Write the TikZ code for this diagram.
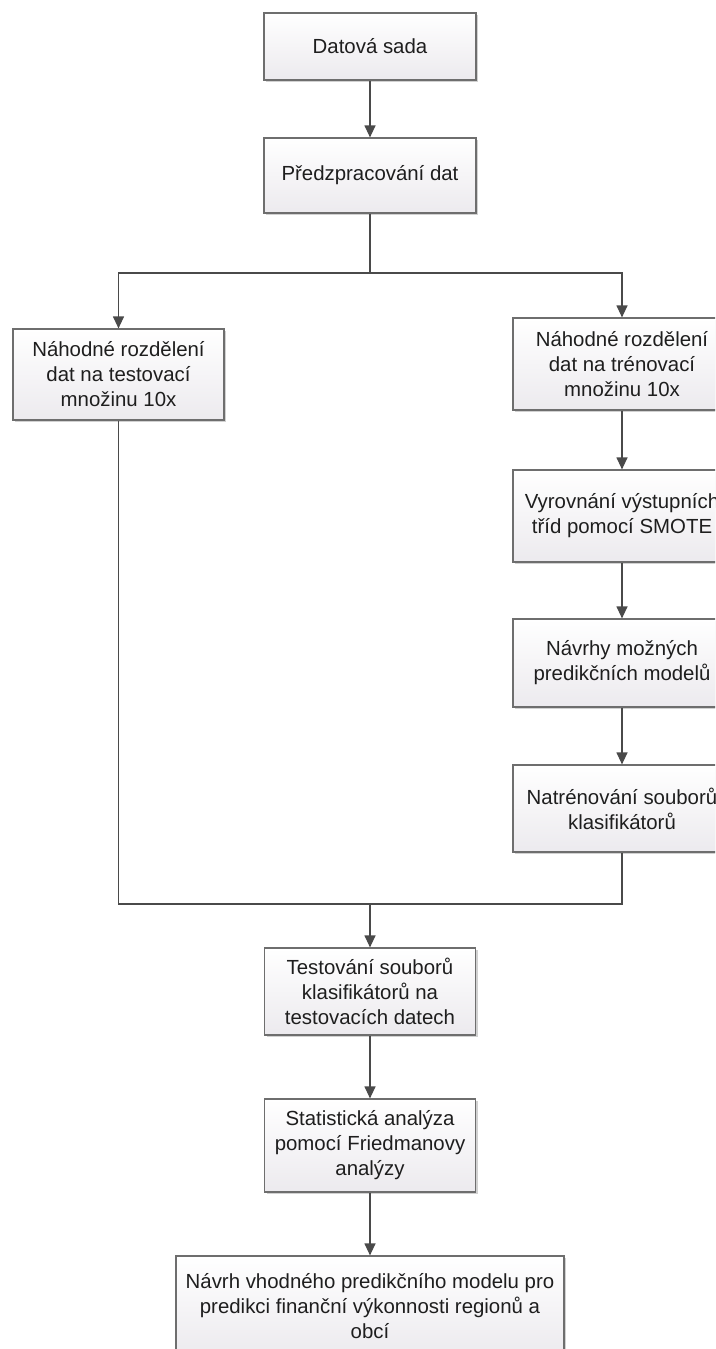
\documentclass[tikz,border=0pt]{standalone}
\usepackage{fontspec}
\setmainfont{Liberation Sans}
\usetikzlibrary{arrows.meta,shadows}
\definecolor{boxedge}{HTML}{6E6E6E}
\definecolor{boxfoot}{HTML}{ECEAEE}
\definecolor{linkcol}{HTML}{4A4A4A}
\definecolor{inkcol}{HTML}{1E1E1E}
\begin{document}
\begin{tikzpicture}[x=1pt,y=-1pt,
  stepbox/.style={draw=boxedge, line width=1.2pt, top color=white, bottom color=boxfoot,
    drop shadow={shadow xshift=2pt, shadow yshift=-2pt, fill=black, opacity=0.18},
    align=center, inner sep=0pt, text=inkcol, font=\fontsize{20.4}{25}\selectfont},
  link/.style={draw=linkcol, line width=1.2pt},
  flow/.style={link, -{Triangle[width=11pt,length=12pt]}}]

% page frame
\useasboundingbox (0,0) rectangle (715,1349);
\fill[white] (0,0) rectangle (715,1349);
\clip (0,0) rectangle (715,1349);

% main column
\node[stepbox, minimum width=212pt, minimum height=67pt] (data) at (370,46.5) {Datová sada};
\node[stepbox, minimum width=212pt, minimum height=75pt] (prep) at (370,175.5) {Předzpracování dat};

% test branch
\node[stepbox, minimum width=211pt, minimum height=91pt] (testsplit) at (118.5,374.5)
  {Náhodné rozdělení\\dat na testovací\\množinu 10x};

% training branch
\node[stepbox, minimum width=218pt, minimum height=92pt] (trainsplit) at (622,364)
  {Náhodné rozdělení\\dat na trénovací\\množinu 10x};
\node[stepbox, minimum width=218pt, minimum height=92pt] (smote) at (622,516)
  {Vyrovnání výstupních\\tříd pomocí SMOTE};
\node[stepbox, minimum width=218pt, minimum height=88pt] (models) at (622,663)
  {Návrhy možných\\predikčních modelů};
\node[stepbox, minimum width=218pt, minimum height=87pt] (train) at (622,808.5)
  {Natrénování souborů\\klasifikátorů};

% evaluation
\node[stepbox, minimum width=211pt, minimum height=87pt] (eval) at (370,991.5)
  {Testování souborů\\klasifikátorů na\\testovacích datech};
\node[stepbox, minimum width=211pt, minimum height=93pt] (stats) at (370,1145.5)
  {Statistická analýza\\pomocí Friedmanovy\\analýzy};
\node[stepbox, minimum width=388pt, minimum height=100pt] (final) at (370,1306)
  {Návrh vhodného predikčního modelu pro\\predikci finanční výkonnosti regionů a\\obcí};

% junction points
\coordinate (split) at (370,273);
\coordinate (merge) at (370,904);

% connectors
\draw[flow] (data) -- (prep);
\draw[link] (prep.south) -- (split);
\draw[flow] (split) -| (testsplit.north);
\draw[flow] (split) -| (trainsplit.north);
\draw[flow] (trainsplit) -- (smote);
\draw[flow] (smote) -- (models);
\draw[flow] (models) -- (train);
\draw[link] (testsplit.south) |- (merge);
\draw[link] (train.south) |- (merge);
\draw[flow] (merge) -- (eval);
\draw[flow] (eval) -- (stats);
\draw[flow] (stats) -- (final);
\end{tikzpicture}
\end{document}
